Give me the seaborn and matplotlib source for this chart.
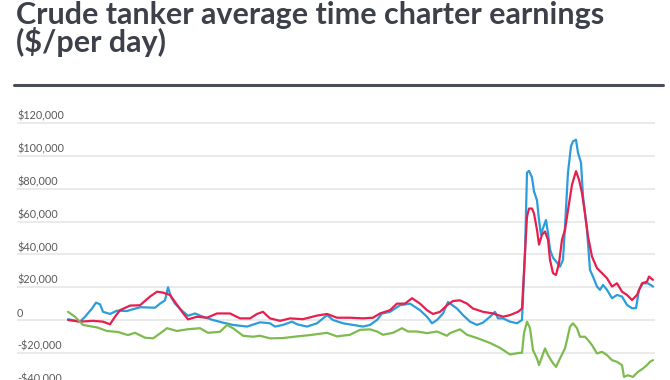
import matplotlib
matplotlib.use("Agg")
import matplotlib.pyplot as plt
import matplotlib.transforms as mtransforms
import seaborn as sns
import pandas as pd

# weeks since start of series, values in $/day
blue_weeks = [0, 6, 8.5, 12, 14, 16, 17.5, 21, 24.5, 29.5, 36, 43.5, 46, 48.5, 50, 51.5, 53.5, 57, 60, 63.5,
              67.5, 72.5, 77.5, 82.5, 89.5, 94.5, 96, 101, 103.5, 107.5, 112, 114.5, 119.5, 124.5, 129.5, 132.5,
              137.5, 142.5, 147.5, 151, 154.5, 157, 161, 166, 171, 176, 179.5, 182, 184.5, 187.5, 190, 194.5,
              197.5, 201, 204.5, 207.5, 211, 213.5, 215, 217.5, 221, 224.5, 227, 228.5, 229.5, 230.5, 232, 233,
              234.5, 235.5, 236.5, 237.5, 239, 240, 241, 242.5, 244.5, 246, 247.5, 248.5, 250, 251.5, 252.5, 254,
              255, 256.5, 257.5, 259.5, 261, 262.5, 264.5, 266, 267.5, 269.5, 272, 274.5, 277, 279.5, 282, 284,
              285.5, 287.5, 290, 292.5]
blue_vals = [0.5, -1, 2, 7, 10.6, 9.6, 5, 3.7, 5.7, 5.5, 7.8, 7.5, 10, 12, 20, 14, 10, 5.7, 2.6, 4,
             2, 0, -1.6, -3, -4, -2, -1.4, -2, -4, -3, -1, -2.6, -4, -2, 3, 0,
             -2, -3, -4, -3, 0, 4, 5, 9, 10, 6, 2, -2, 0, 4, 11, 7,
             3, -1, -3, -1.6, 2, 5, 1, 1, -1, -2, 0, 41, 90, 91, 87, 78.5,
             73, 61, 52, 56, 61, 53, 43, 38, 35, 32.6, 36.7, 57, 90, 106, 109, 110,
             102, 96, 75.5, 55, 30.6, 26.5, 20.4, 18.4, 21.4, 18.4, 13.3, 15.3, 14.3, 9.2, 7.2, 7.2,
             18.4, 22.4, 22.4, 20.4]

red_weeks = [0, 6, 12.5, 17.5, 21, 23.5, 26, 31, 36, 41, 44.5, 47.5, 51, 53.5, 57, 60, 64.5, 69.5, 74.5, 81,
             86, 91, 94.5, 97.5, 101, 106, 111, 117.5, 124.5, 129.5, 134.5, 141, 147.5, 152.5, 156, 161, 164.5,
             168.5, 172, 176, 179.5, 182.5, 186, 189.5, 192.5, 196, 199.5, 202.5, 207.5, 212.5, 217.5, 221, 225,
             227, 228.5, 229.5, 230.5, 232, 233, 234.5, 235.5, 237, 238.5, 240, 241, 242.5, 244, 245.5, 247,
             248.5, 250, 252, 254, 255.5, 257, 258.5, 260, 262, 264.5, 267, 269.5, 272, 274.5, 277, 279.5, 282,
             284.5, 287, 289.5, 290.5, 292.5]
red_vals = [0, -1, -0.5, -1, -2.6, 2, 6, 8.8, 9, 14.3, 17.3, 16.7, 15.3, 11, 5, 0.4, 2, 1.4, 4, 4,
            1, 1, 3.7, 5, 1, -0.5, 1, 0.5, 2.7, 3.7, 1.4, 1.4, 1, 1.4, 4, 6, 10,
            10, 13.3, 10, 6, 3.7, 5, 9, 11.6, 12, 10, 7, 5, 4, 2, 3, 5,
            7, 41, 63, 68, 68, 65, 55, 46, 52, 54, 49, 36.7, 28.6, 27.5, 34.7, 49,
            55, 67, 82.6, 90.8, 85.7, 77.5, 65, 51, 38.7, 31.6, 28.6, 25.5, 20.4, 22.4, 17.3, 15.3, 12.2,
            15.3, 22.4, 23.4, 26.5, 24.5]

green_weeks = [0, 3.5, 7.5, 12, 14.5, 19.5, 25, 30, 33.5, 38.5, 42.5, 46, 49.5, 54.5, 59.5, 66, 70, 76, 79.5,
               82.5, 87.5, 92.5, 96, 101, 107.5, 114.5, 121, 129.5, 134.5, 141, 146, 151, 154.5, 157.5, 162.5,
               167, 170, 174.5, 179.5, 184.5, 189.5, 191, 196, 199.5, 204.5, 211, 216, 221, 226, 227, 228,
               229.5, 231, 232.5, 234.5, 235.5, 237, 238.5, 240, 242, 244, 246, 248.5, 249.5, 251, 252.5, 254.5,
               256, 258.5, 260, 262, 264.5, 267, 269.5, 272, 274.5, 277, 278, 280, 282.5, 285, 287.5, 289.5,
               291, 292.5]
green_vals = [5, 2, -3, -4, -4.5, -6.7, -7.3, -9.2, -7.8, -10.8, -11.2, -8.2, -5, -6.7, -5.7, -5, -7.8, -7.2, -3,
              -5, -9.6, -10.2, -9.6, -11.2, -11, -10, -9.2, -7.8, -10, -9, -6, -5.7, -7, -9, -7.8,
              -5, -7, -7, -8, -7, -9.6, -8, -5.7, -9, -11, -14, -17, -21, -20, -20, -8,
              -1, -5, -18.4, -23.5, -27.5, -22.4, -17.3, -21.4, -25.5, -28.6, -23.5, -17.3, -12.2, -4, -2, -5,
              -10.2, -10.2, -12.2, -15.3, -20.4, -19.4, -21.4, -24.5, -25.5, -27.5, -34.7, -33.7, -34.7, -31.6,
              -29.6, -27.5, -25.5, -24.5]

y_ticks = [-40000, -20000, 0, 20000, 40000, 60000, 80000, 100000, 120000]
y_labels = ["-$40,000", "-$20,000", "0", "$20,000", "$40,000", "$60,000", "$80,000", "$100,000", "$120,000"]

line_colors = ["#2b9ddb", "#e5204e", "#7dbb4f"]

sns.set_style("white")
plt.rcParams["font.family"] = ["Lato", "DejaVu Sans"]

frames = []
for name, wk, vals in [("blue", blue_weeks, blue_vals), ("red", red_weeks, red_vals),
                       ("green", green_weeks, green_vals)]:
    frames.append(pd.DataFrame({"week": wk, "earnings": [v * 1000 for v in vals], "series": name}))
df = pd.concat(frames, ignore_index=True)

fig = plt.figure(figsize=(6.7, 3.8), dpi=100)
ax = fig.add_axes([0.0254, -0.0578, 0.9522, 0.7548])

sns.lineplot(data=df, x="week", y="earnings", hue="series", palette=line_colors,
             linewidth=1.6, legend=False, ax=ax, sort=False, zorder=3)

ax.set_xlim(-25.5, 293.5)
ax.set_ylim(-50000, 125000)
for t in y_ticks:
    ax.axhline(t, color="#e6e6e6", linewidth=1.2, zorder=1)
trans = mtransforms.blended_transform_factory(ax.transAxes, ax.transData)
for t, lab in zip(y_ticks, y_labels):
    ax.text(0, t + 900, lab, transform=trans, ha="left", va="bottom", fontsize=7.8, color="#5a5a5a")

ax.set_xticks([])
ax.set_yticks([])
ax.set_xlabel("")
ax.set_ylabel("")
sns.despine(ax=ax, left=True, bottom=True)

title_kw = dict(ha="left", va="baseline", fontsize=22, fontweight="bold", color="#3c4049")
fig.text(0.024, 0.936, "Crude tanker average time charter earnings", **title_kw)
fig.text(0.024, 0.862, "($/per day)", **title_kw)
fig.add_artist(plt.Line2D([0.021, 0.989], [0.777, 0.777], color="#4a4e5a", linewidth=2.2,
                          transform=fig.transFigure))

fig.savefig("out.png", dpi=100)
